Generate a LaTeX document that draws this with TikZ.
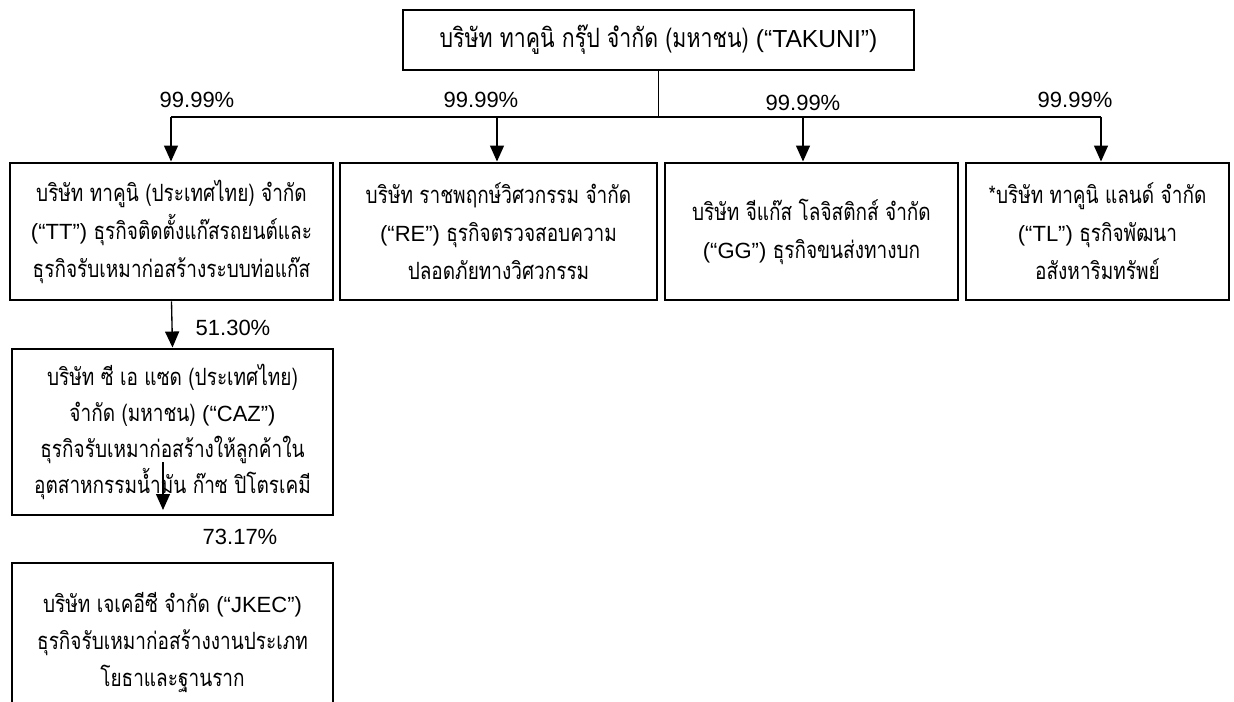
\documentclass[tikz,border=0pt]{standalone}
\usepackage{fontspec}
\setmainfont[Script=Thai,Scale=1.08,FakeStretch=0.8]{Loma}
\newfontfamily\latfont{Liberation Sans}
\newcommand\la[1]{{\latfont #1}}
\usetikzlibrary{arrows.meta}
\begin{document}
\begin{tikzpicture}[x=0.75pt,y=-0.75pt,
  box/.style={draw, line width=2.2pt, align=center, inner sep=0pt,
    font=\fontsize{16.5pt}{28.5pt}\selectfont},
  conn/.style={line width=1pt},
  arr/.style={conn,-{Triangle[width=10.5pt,length=12pt]}},
  pct/.style={font=\latfont\fontsize{16.5pt}{20pt}\selectfont, inner sep=0pt}]
\useasboundingbox (0,0) rectangle (1234,702);
\clip (0,0) rectangle (1234,702);

% boxes
\node[box, minimum width=383.25pt, minimum height=45pt,
  font=\fontsize{18.5pt}{22pt}\selectfont] (top) at (658.5,40)
  {บริษัท ทาคูนิ กรุ๊ป จำกัด (มหาชน) \la{(“TAKUNI”)}};
\node[box, minimum width=242.25pt, minimum height=102.75pt] (tt) at (171.5,231.5)
  {บริษัท ทาคูนิ (ประเทศไทย) จำกัด\\\la{(“TT”)} ธุรกิจติดตั้งแก๊สรถยนต์และ\\ธุรกิจรับเหมาก่อสร้างระบบท่อแก๊ส};
\node[box, minimum width=237.75pt, minimum height=102.75pt] (re) at (498.5,231.5)
  {บริษัท ราชพฤกษ์วิศวกรรม จำกัด\\\la{(“RE”)} ธุรกิจตรวจสอบความ\\ปลอดภัยทางวิศวกรรม};
\node[box, minimum width=219.75pt, minimum height=102.75pt] (gg) at (811.5,231.5)
  {บริษัท จีแก๊ส โลจิสติกส์ จำกัด\\\la{(“GG”)} ธุรกิจขนส่งทางบก};
\node[box, minimum width=197.25pt, minimum height=102.75pt] (tl) at (1097.5,231.5)
  {*บริษัท ทาคูนิ แลนด์ จำกัด\\\la{(“TL”)} ธุรกิจพัฒนา\\อสังหาริมทรัพย์};
\node[box, minimum width=240.75pt, minimum height=124.5pt,
  font=\fontsize{16.5pt}{27pt}\selectfont] (caz) at (172.5,432)
  {บริษัท ซี เอ แซด (ประเทศไทย)\\จำกัด (มหาชน) \la{(“CAZ”)}\\ธุรกิจรับเหมาก่อสร้างให้ลูกค้าใน\\อุตสาหกรรมน้ำมัน ก๊าซ ปิโตรเคมี};
\node[box, minimum width=240.75pt, minimum height=120pt,
  font=\fontsize{16.5pt}{27.75pt}\selectfont] (jkec) at (172.5,643)
  {บริษัท เจเคอีซี จำกัด \la{(“JKEC”)}\\ธุรกิจรับเหมาก่อสร้างงานประเภท\\โยธาและฐานราก};

% bus
\coordinate (b1) at (171,117);
\coordinate (b2) at (497,117);
\coordinate (b3) at (803,117);
\coordinate (b4) at (1101,117);
\draw[conn] (top.south) -- (top.south |- b1);
\draw[conn] (b1) -- (b4);
\draw[arr] (b1) -- (b1 |- tt.north);
\draw[arr] (b2) -- (b2 |- re.north);
\draw[arr] (b3) -- (b3 |- gg.north);
\draw[arr] (b4) -- (b4 |- tl.north);

% TT -> CAZ
\draw[arr] (tt.south) -- (caz.north);
% arrow inside CAZ
\coordinate (cazin) at (163,462);
\coordinate (caztip) at (163,510);
\draw[arr] (cazin) -- (caztip);

% labels
\node[pct] (l1) at (197,100) {99.99\%};
\node[pct] (l2) at (481,100) {99.99\%};
\node[pct] (l3) at (803,103) {99.99\%};
\node[pct] (l4) at (1075,100) {99.99\%};
\node[pct] (l5) at (233,328) {51.30\%};
\node[pct] (l6) at (240,537) {73.17\%};
\end{tikzpicture}
\end{document}
